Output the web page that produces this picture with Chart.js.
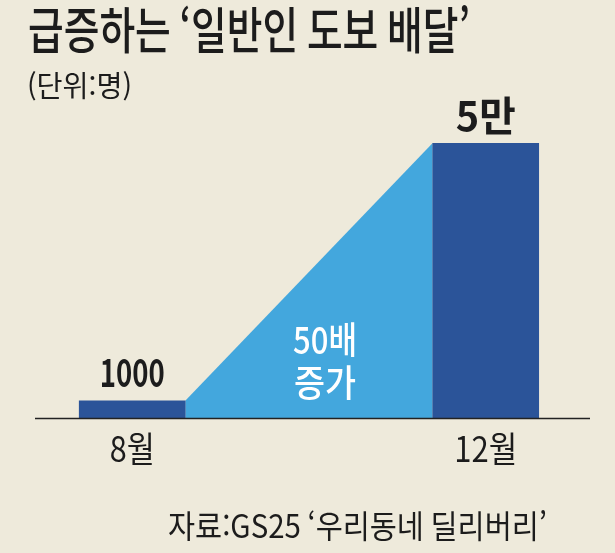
<!DOCTYPE html>
<html lang="ko">
<head>
<meta charset="utf-8">
<script src="https://cdn.jsdelivr.net/npm/chart.js@4.4.0/dist/chart.umd.min.js"></script>
<style>
html, body { margin: 0; padding: 0; background: #eeeadb; }
canvas { display: block; }
</style>
</head>
<body>
<canvas id="deliveryChart" width="615" height="553"></canvas>
<script>
const months = [8, 12];
const monthLabels = ["8월", "12월"];
const walkers = [1000, 50000];
const valueLabels = ["1000", "5만"];
const growthLabel = ["50배", "증가"];
const titleText = "급증하는 ‘일반인 도보 배달’";
const unitText = "(단위:명)";
const sourceText = "자료:GS25 ‘우리동네 딜리버리’";

const bgColor = "#eeeadb";
const darkBlue = "#2b5499";
const lightBlue = "#43a7dd";
const textColor = "#1c1c1c";
const FONT = '"Noto Sans CJK KR", "Noto Sans", sans-serif';
const barHalf = 0.6; // half a bar, in months on the x scale

// draws text squeezed to a given width (the original uses a condensed face)
function fitText(ctx, text, x, y, size, weight, width, align, color) {
    ctx.save();
    ctx.font = weight + " " + size + "px " + FONT;
    ctx.fillStyle = color;
    ctx.textBaseline = "middle";
    ctx.textAlign = "left";
    const w = ctx.measureText(text).width;
    const left = align === "center" ? x - width / 2 : x;
    ctx.translate(left, y);
    ctx.scale(width / w, 1);
    ctx.fillText(text, 0, 0);
    ctx.restore();
}

const labelsPlugin = {
    id: "labels",
    beforeDraw(chart) {
        const ctx = chart.ctx;
        ctx.save();
        ctx.fillStyle = bgColor;
        ctx.fillRect(0, 0, chart.width, chart.height);
        ctx.restore();
    },
    afterDatasetsDraw(chart) {
        const {ctx, chartArea, scales: {x, y}} = chart;

        ctx.save();
        ctx.strokeStyle = "#222";
        ctx.lineWidth = 1.5;
        ctx.beginPath();
        ctx.moveTo(chartArea.left, chartArea.bottom + 0.5);
        ctx.lineTo(chartArea.right, chartArea.bottom + 0.5);
        ctx.stroke();
        ctx.restore();

        fitText(ctx, titleText, 28, 30, 50, 500, 442, "left", textColor);
        fitText(ctx, unitText, 27, 86, 29, 400, 105, "left", textColor);

        const monthWidths = [45, 63];
        const valueWidths = [65, 60];
        const valueSizes = [38, 41];
        months.forEach((m, i) => {
            const px = x.getPixelForValue(m);
            fitText(ctx, monthLabels[i], px, chartArea.bottom + 31, 35, 400, monthWidths[i], "center", textColor);
            fitText(ctx, valueLabels[i], px, y.getPixelForValue(walkers[i]) - 28, valueSizes[i], 700, valueWidths[i], "center", textColor);
        });

        const gx = x.getPixelForValue((months[0] + months[1]) / 2) + 16;
        fitText(ctx, growthLabel[0], gx, 340, 37, 500, 64, "center", "#ffffff");
        fitText(ctx, growthLabel[1], gx, 383, 37, 500, 62, "center", "#ffffff");

        fitText(ctx, sourceText, 168, 526, 32, 400, 379, "left", textColor);
    }
};

new Chart(document.getElementById("deliveryChart"), {
    type: "bar",
    data: {
        datasets: [{
            type: "bar",
            data: months.map((m, i) => ({x: m, y: walkers[i]})),
            backgroundColor: darkBlue,
            barThickness: 106,
            order: 1
        }, {
            type: "line",
            data: [
                {x: months[0] + barHalf, y: walkers[0]},
                {x: months[1] - barHalf, y: walkers[1]}
            ],
            fill: "origin",
            backgroundColor: lightBlue,
            borderWidth: 0,
            pointRadius: 0,
            tension: 0,
            order: 2
        }]
    },
    options: {
        responsive: false,
        animation: false,
        devicePixelRatio: 1,
        layout: {
            padding: {left: 35, right: 25, top: 143, bottom: 135}
        },
        plugins: {
            legend: {display: false},
            tooltip: {enabled: false}
        },
        scales: {
            x: {
                type: "linear",
                min: 6.9,
                max: 13.18,
                offset: false,
                bounds: "data",
                display: false
            },
            y: {
                type: "logarithmic",
                min: 770,
                max: 50000,
                bounds: "data",
                display: false
            }
        }
    },
    plugins: [labelsPlugin]
});
</script>
</body>
</html>
